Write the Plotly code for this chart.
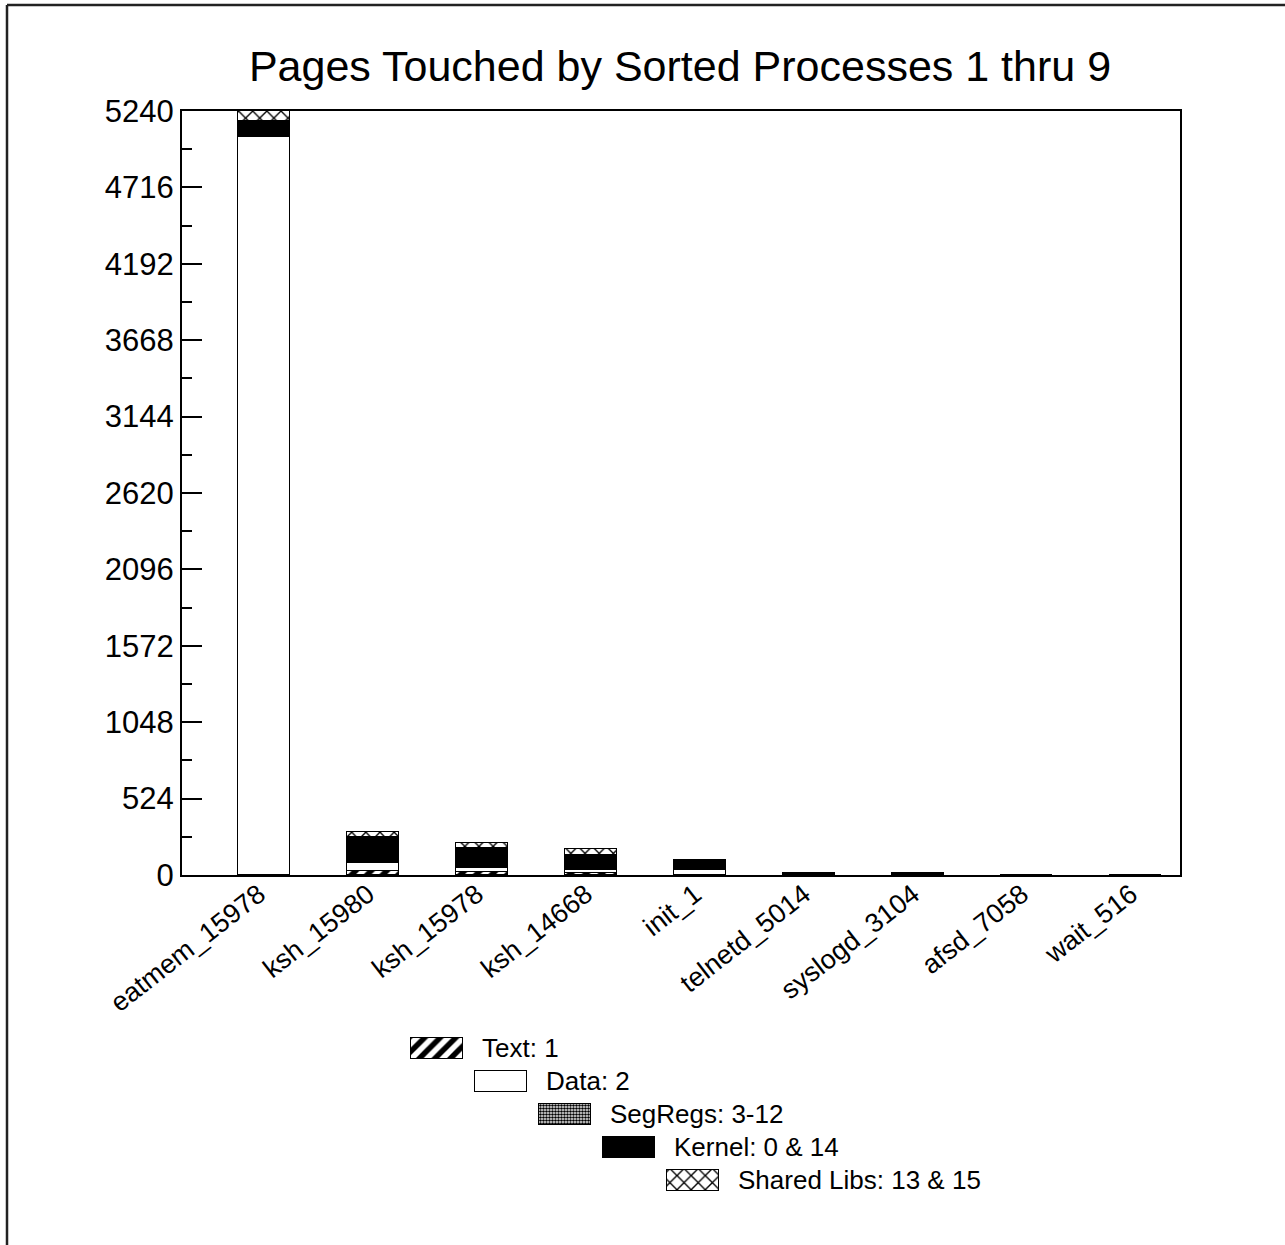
import plotly.graph_objects as go

# ---------------- data ----------------
processes = ["eatmem_15978", "ksh_15980", "ksh_15978", "ksh_14668", "init_1",
             "telnetd_5014", "syslogd_3104", "afsd_7058", "wait_516"]
text_pages = [2, 27, 18, 12, 2, 0, 0, 0, 0]
data_pages = [5058, 53, 32, 25, 34, 2, 2, 0, 0]
segreg_pages = [3, 0, 0, 0, 0, 0, 0, 0, 0]
kernel_pages = [107, 183, 133, 101, 64, 13, 11, 0, 0]
shlib_pages = [69, 34, 34, 37, 0, 0, 0, 0, 0]
y_tick_values = [0, 524, 1048, 1572, 2096, 2620, 3144, 3668, 4192, 4716, 5240]
legend_labels = ["Text: 1", "Data: 2", "SegRegs: 3-12", "Kernel: 0 & 14", "Shared Libs: 13 & 15"]

# ---------------- style ----------------
W, H = 1285, 1245
FONT = "Liberation Sans, Arial, Helvetica, sans-serif"
x_idx = list(range(len(processes)))

patterns = [
    dict(shape="/", fgcolor="black", bgcolor="white", size=11, solidity=0.5),
    dict(shape="", fgcolor="black", bgcolor="white"),
    dict(shape=".", fgcolor="black", bgcolor="white", size=3, solidity=0.6),
    dict(shape="", fgcolor="black", bgcolor="black"),
    dict(shape="x", fgcolor="black", bgcolor="white", size=10, solidity=0.25),
]
fills = ["white", "white", "#888888", "black", "white"]
series = [text_pages, data_pages, segreg_pages, kernel_pages, shlib_pages]

fig = go.Figure()
for vals, pat, fc, name in zip(series, patterns, fills, legend_labels):
    fig.add_trace(go.Bar(
        x=x_idx, y=vals, name=name, width=0.477,
        marker=dict(color=fc, pattern=pat, line=dict(color="black", width=1.5)),
        showlegend=False, xaxis="x", yaxis="y",
    ))

# custom staggered legend drawn on an auxiliary axis in pixel units
lg_x0, lg_y0, lg_dx, lg_dy = 411, 1048, 64, 33
sw_w, sw_h = 52, 21
LX0, LX1, LY0, LY1 = 380, 1100, 1020, 1210
for i, (pat, fc, name) in enumerate(zip(patterns, fills, legend_labels)):
    fig.add_trace(go.Bar(
        y=[lg_y0 + i * lg_dy], x=[sw_w], base=[lg_x0 + i * lg_dx], orientation="h",
        width=sw_h, marker=dict(color=fc, pattern=pat, line=dict(color="black", width=1.5)),
        showlegend=False, xaxis="x2", yaxis="y2", hoverinfo="skip",
    ))
    fig.add_annotation(
        x=(lg_x0 + i * lg_dx + sw_w + 17) / W, y=1 - (lg_y0 + i * lg_dy) / H,
        xref="paper", yref="paper", xanchor="left", yanchor="middle",
        text=name, showarrow=False, font=dict(family=FONT, size=26, color="black"),
    )

fig.update_layout(
    width=W, height=H, template="none",
    margin=dict(l=0, r=0, t=0, b=0, autoexpand=False),
    paper_bgcolor="white", plot_bgcolor="rgba(0,0,0,0)",
    barmode="stack", bargap=0,
    font=dict(family=FONT, color="black"),
    title=dict(text="Pages Touched by Sorted Processes 1 thru 9",
               x=680 / W, y=1 - 66 / H, xanchor="center", yanchor="middle",
               xref="paper", yref="paper",
               font=dict(family=FONT, size=43, color="black")),
    xaxis=dict(domain=[182 / W, 1180 / W], range=[(182 - 264) / 109, (1180 - 264) / 109],
               tickmode="array", tickvals=x_idx, ticktext=processes, tickangle=-38,
               ticks="", showgrid=False, zeroline=False, showline=True, mirror=True,
               linecolor="black", linewidth=2, automargin=False,
               ticklabelstandoff=-9, ticklabelshift=-5,
               tickfont=dict(family=FONT, size=27, color="black")),
    yaxis=dict(domain=[1 - 875 / H, 1 - 111 / H], range=[0, 5240],
               tickmode="array", tickvals=y_tick_values,
               ticks="inside", ticklen=20, tickwidth=1.5, tickcolor="black",
               minor=dict(ticks="inside", ticklen=10, tickwidth=1.5, tickcolor="black", dtick=262, tick0=0, showgrid=False),
               showgrid=False, zeroline=False, showline=True, mirror=True,
               linecolor="black", linewidth=2, automargin=False,
               tickfont=dict(family=FONT, size=31, color="black")),
    xaxis2=dict(domain=[LX0 / W, LX1 / W], range=[LX0, LX1], visible=False, anchor="y2", fixedrange=True),
    yaxis2=dict(domain=[1 - LY1 / H, 1 - LY0 / H], range=[LY1, LY0], visible=False, anchor="x2", fixedrange=True),
    shapes=[
        dict(type="line", xref="paper", yref="paper", x0=7 / W, x1=7 / W, y0=1 - 5 / H, y1=0,
             line=dict(color="#222222", width=2.5)),
        dict(type="line", xref="paper", yref="paper", x0=7 / W, x1=1, y0=1 - 5 / H, y1=1 - 5 / H,
             line=dict(color="#222222", width=2.5)),
    ],
)

fig.write_html("out.html", config={"displayModeBar": False},
               post_script="document.body.style.margin='0';")
